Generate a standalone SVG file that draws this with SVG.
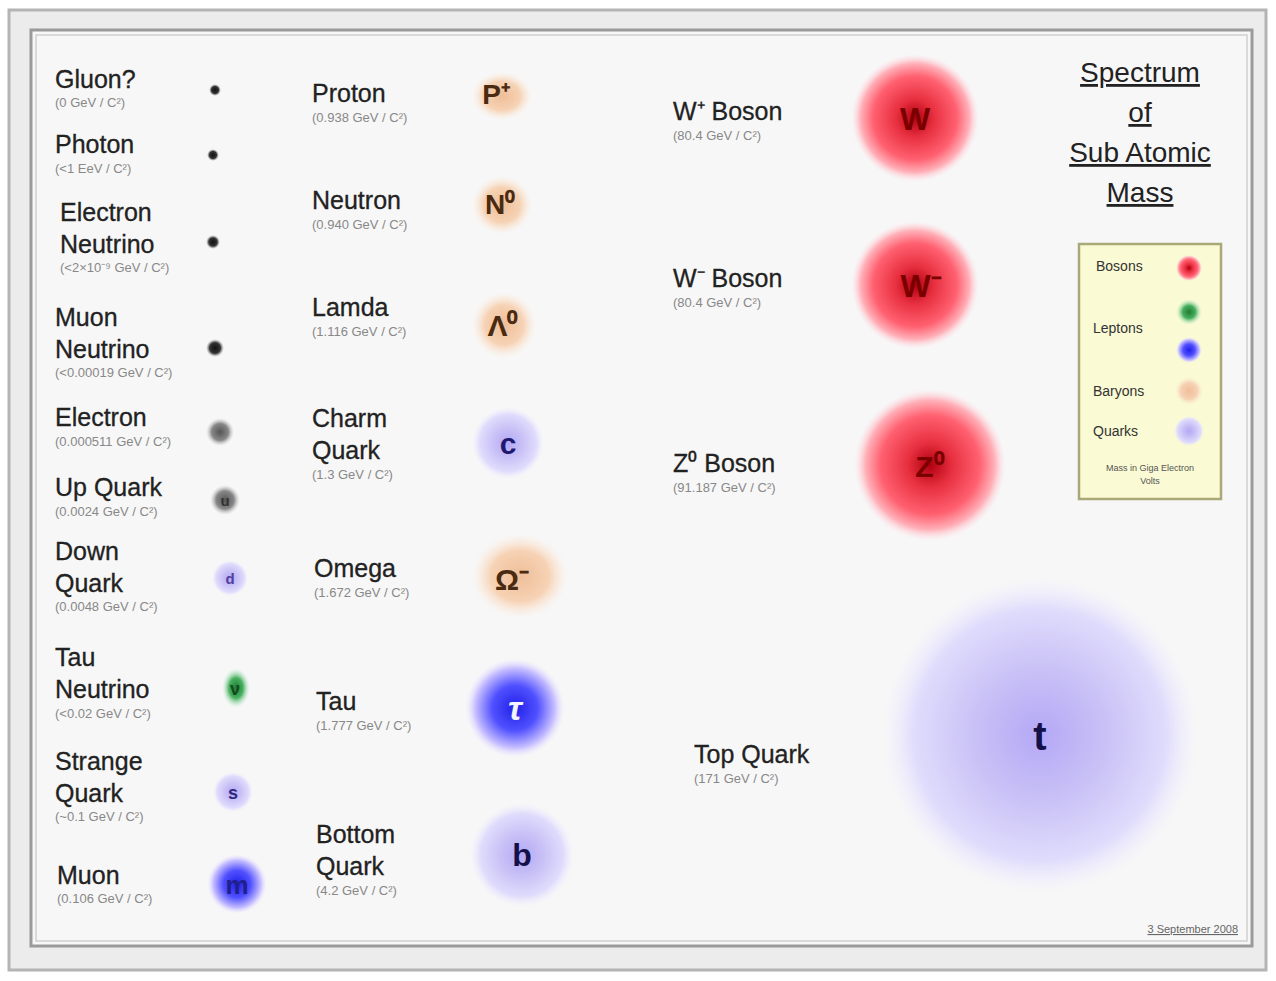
<svg xmlns="http://www.w3.org/2000/svg" width="1276" height="981" viewBox="0 0 1276 981">
<style>
.lbl{font-family:"Liberation Sans",Arial,sans-serif;font-size:25px;fill:#222;stroke:#222;stroke-width:0.3}
.mass{font-family:"Liberation Sans",Arial,sans-serif;font-size:13px;fill:#888}
.note{font-family:"Liberation Sans",Arial,sans-serif;font-size:9px;fill:#555;text-anchor:middle}
.sym{font-family:"Liberation Sans",Arial,sans-serif;font-weight:bold;text-anchor:middle}
.title{font-family:"Liberation Sans",Arial,sans-serif;font-size:28px;fill:#222;text-anchor:middle;text-decoration:underline}
.leg{font-family:"Liberation Sans",Arial,sans-serif;font-size:14px;fill:#333}
</style>
<defs>
<radialGradient id="gBoson"><stop offset="0" stop-color="#b00010"/><stop offset="0.3" stop-color="#e83040"/><stop offset="0.65" stop-color="#ff6070"/><stop offset="0.85" stop-color="#ffb0b8"/><stop offset="1" stop-color="#ffe0e8" stop-opacity="0"/></radialGradient>
<radialGradient id="gLepton"><stop offset="0" stop-color="#2020e8"/><stop offset="0.45" stop-color="#5050ff"/><stop offset="0.8" stop-color="#c8c0ff"/><stop offset="1" stop-color="#eeeaff" stop-opacity="0"/></radialGradient>
<radialGradient id="gQuark"><stop offset="0" stop-color="#b4a8f6"/><stop offset="0.4" stop-color="#c8c0f6"/><stop offset="0.8" stop-color="#e0dcfc"/><stop offset="1" stop-color="#efedff" stop-opacity="0"/></radialGradient>
<radialGradient id="gBaryon"><stop offset="0" stop-color="#efbe98"/><stop offset="0.6" stop-color="#f6d2b4"/><stop offset="1" stop-color="#fde8d6" stop-opacity="0"/></radialGradient>
<radialGradient id="gGreen"><stop offset="0" stop-color="#1e7a2e"/><stop offset="0.5" stop-color="#48b060"/><stop offset="1" stop-color="#c8f0d8" stop-opacity="0"/></radialGradient>
<radialGradient id="gGray"><stop offset="0" stop-color="#555"/><stop offset="0.6" stop-color="#888"/><stop offset="1" stop-color="#ccc" stop-opacity="0"/></radialGradient>
<radialGradient id="gDot"><stop offset="0" stop-color="#111"/><stop offset="0.6" stop-color="#333"/><stop offset="1" stop-color="#999" stop-opacity="0"/></radialGradient>
</defs>
<rect width="1276" height="981" fill="#ffffff"/>
<rect x="9" y="10" width="1257" height="960" fill="#ececec" stroke="#b4b4b4" stroke-width="3"/>
<rect x="31" y="30" width="1221" height="916" fill="#f7f7f7" stroke="#9a9a9a" stroke-width="3"/>
<rect x="36" y="35" width="1211" height="906" fill="none" stroke="#d0d0d0" stroke-width="1.5"/>

<g id="gluon"><text class="lbl" x="55" y="88">Gluon?</text><text class="mass" x="55" y="107">(0 GeV / C²)</text><circle cx="215" cy="90" r="6" fill="url(#gDot)"/></g>
<g id="photon"><text class="lbl" x="55" y="153">Photon</text><text class="mass" x="55" y="173">(&lt;1 EeV / C²)</text><circle cx="213" cy="155" r="6" fill="url(#gDot)"/></g>
<g id="electron-neutrino"><text class="lbl" x="60" y="221">Electron</text><text class="lbl" x="60" y="253">Neutrino</text><text class="mass" x="60" y="272">(&lt;2×10⁻⁹ GeV / C²)</text><circle cx="213" cy="242" r="7" fill="url(#gDot)"/></g>
<g id="muon-neutrino"><text class="lbl" x="55" y="326">Muon</text><text class="lbl" x="55" y="358">Neutrino</text><text class="mass" x="55" y="377">(&lt;0.00019 GeV / C²)</text><circle cx="215" cy="348" r="9" fill="url(#gDot)"/></g>
<g id="electron"><text class="lbl" x="55" y="426">Electron</text><text class="mass" x="55" y="446">(0.000511 GeV / C²)</text><circle cx="220" cy="432" r="14" fill="url(#gGray)"/></g>
<g id="up-quark"><text class="lbl" x="55" y="496">Up Quark</text><text class="mass" x="55" y="516">(0.0024 GeV / C²)</text><circle cx="225" cy="500" r="15" fill="url(#gGray)"/><text class="sym" x="225" y="506" font-size="15" fill="#333">u</text></g>
<g id="down-quark"><text class="lbl" x="55" y="560">Down</text><text class="lbl" x="55" y="592">Quark</text><text class="mass" x="55" y="611">(0.0048 GeV / C²)</text><circle cx="230" cy="578" r="18" fill="url(#gQuark)"/><text class="sym" x="230" y="584" font-size="15" fill="#5040a0">d</text></g>
<g id="tau-neutrino"><text class="lbl" x="55" y="666">Tau</text><text class="lbl" x="55" y="698">Neutrino</text><text class="mass" x="55" y="718">(&lt;0.02 GeV / C²)</text><rect x="222" y="668" width="28" height="40" fill="url(#gGreen)"/><text class="sym" x="235" y="695" font-size="18" fill="#144a20">ν</text></g>
<g id="strange-quark"><text class="lbl" x="55" y="770">Strange</text><text class="lbl" x="55" y="802">Quark</text><text class="mass" x="55" y="821">(~0.1 GeV / C²)</text><circle cx="233" cy="792" r="20" fill="url(#gQuark)"/><text class="sym" x="233" y="799" font-size="18" fill="#302880">s</text></g>
<g id="muon"><text class="lbl" x="57" y="884">Muon</text><text class="mass" x="57" y="903">(0.106 GeV / C²)</text><circle cx="237" cy="884" r="30" fill="url(#gLepton)"/><text class="sym" x="237" y="894" font-size="26" fill="#20208a">m</text></g>

<g id="proton"><text class="lbl" x="312" y="102">Proton</text><text class="mass" x="312" y="122">(0.938 GeV / C²)</text><rect x="472" y="72" width="60" height="48" rx="14" fill="url(#gBaryon)"/><text class="sym" x="496" y="104" font-size="28" fill="#4a2a10">P⁺</text></g>
<g id="neutron"><text class="lbl" x="312" y="209">Neutron</text><text class="mass" x="312" y="229">(0.940 GeV / C²)</text><rect x="472" y="176" width="60" height="58" rx="14" fill="url(#gBaryon)"/><text class="sym" x="500" y="214" font-size="28" fill="#4a2a10">N⁰</text></g>
<g id="lamda"><text class="lbl" x="312" y="316">Lamda</text><text class="mass" x="312" y="336">(1.116 GeV / C²)</text><rect x="472" y="292" width="64" height="66" rx="14" fill="url(#gBaryon)"/><text class="sym" x="503" y="336" font-size="30" fill="#4a2a10">Λ⁰</text></g>
<g id="charm-quark"><text class="lbl" x="312" y="427">Charm</text><text class="lbl" x="312" y="459">Quark</text><text class="mass" x="312" y="479">(1.3 GeV / C²)</text><circle cx="508" cy="443" r="36" fill="url(#gQuark)"/><text class="sym" x="508" y="454" font-size="30" fill="#1e1a70">c</text></g>
<g id="omega"><text class="lbl" x="314" y="577">Omega</text><text class="mass" x="314" y="597">(1.672 GeV / C²)</text><rect x="472" y="534" width="96" height="84" rx="22" fill="url(#gBaryon)"/><text class="sym" x="512" y="590" font-size="30" fill="#4a2a10">Ω⁻</text></g>
<g id="tau"><text class="lbl" x="316" y="710">Tau</text><text class="mass" x="316" y="730">(1.777 GeV / C²)</text><circle cx="515" cy="708" r="50" fill="url(#gLepton)"/><text class="sym" x="515" y="720" font-size="34" font-style="italic" fill="#f4f4ff">τ</text></g>
<g id="bottom-quark"><text class="lbl" x="316" y="843">Bottom</text><text class="lbl" x="316" y="875">Quark</text><text class="mass" x="316" y="895">(4.2 GeV / C²)</text><circle cx="522" cy="855" r="52" fill="url(#gQuark)"/><text class="sym" x="522" y="866" font-size="32" fill="#14104a">b</text></g>

<g id="w-plus-boson"><text class="lbl" x="673" y="120">W⁺ Boson</text><text class="mass" x="673" y="140">(80.4 GeV / C²)</text><circle cx="915" cy="118" r="64" fill="url(#gBoson)"/><text class="sym" x="915" y="130" font-size="32" fill="#7a0000">W</text></g>
<g id="w-minus-boson"><text class="lbl" x="673" y="287">W⁻ Boson</text><text class="mass" x="673" y="307">(80.4 GeV / C²)</text><circle cx="915" cy="285" r="64" fill="url(#gBoson)"/><text class="sym" x="921" y="297" font-size="32" fill="#7a0000">W⁻</text></g>
<g id="z-boson"><text class="lbl" x="673" y="472">Z⁰ Boson</text><text class="mass" x="673" y="492">(91.187 GeV / C²)</text><circle cx="930" cy="465" r="76" fill="url(#gBoson)"/><text class="sym" x="930" y="477" font-size="30" fill="#7a0000">Z⁰</text></g>
<g id="top-quark"><text class="lbl" x="694" y="763">Top Quark</text><text class="mass" x="694" y="783">(171 GeV / C²)</text><circle cx="1040" cy="735" r="158" fill="url(#gQuark)"/><text class="sym" x="1040" y="750" font-size="40" fill="#14104a">t</text></g>

<g id="title"><text class="title" x="1140" y="82">Spectrum</text><text class="title" x="1140" y="122">of</text><text class="title" x="1140" y="162">Sub Atomic</text><text class="title" x="1140" y="202">Mass</text></g>

<g id="legend">
<rect x="1079" y="244" width="142" height="255" fill="#fafad4" stroke="#a8a878" stroke-width="2.5"/>
<text class="leg" x="1096" y="271">Bosons</text><circle cx="1189" cy="268" r="13" fill="url(#gBoson)"/>
<text class="leg" x="1093" y="333">Leptons</text><circle cx="1189" cy="312" r="13" fill="url(#gGreen)"/><circle cx="1189" cy="350" r="13" fill="url(#gLepton)"/>
<text class="leg" x="1093" y="396">Baryons</text><rect x="1175" y="377" width="28" height="28" rx="7" fill="url(#gBaryon)"/>
<text class="leg" x="1093" y="436">Quarks</text><circle cx="1189" cy="431" r="15" fill="url(#gQuark)"/>
<text class="note" x="1150" y="471">Mass in Giga Electron</text><text class="note" x="1150" y="484">Volts</text>
</g>
<text x="1238" y="933" text-anchor="end" style="font-family:'Liberation Sans',Arial,sans-serif;font-size:11px;fill:#666;text-decoration:underline">3 September 2008</text>
</svg>
